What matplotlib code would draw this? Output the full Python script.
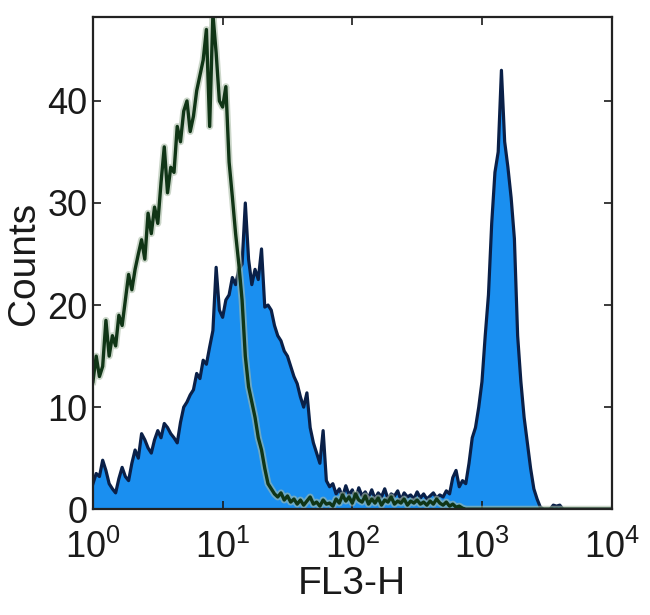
import numpy as np
import matplotlib.pyplot as plt

plt.rcParams['font.family'] = ['Liberation Sans', 'DejaVu Sans']
plt.rcParams['mathtext.fontset'] = 'custom'
plt.rcParams['mathtext.rm'] = 'Liberation Sans'
plt.rcParams['mathtext.default'] = 'regular'

# channel grid (log10 of FL3-H), 161 channels over 4 decades
log_ch = np.linspace(0, 4, 161)

# unstained / control (outline only)
control = [12.5, 15.0, 13.0, 14.0, 18.5, 15.0, 17.0, 16.0, 19.0, 18.0,
           20.5, 23.0, 21.5, 23.5, 25.0, 26.4, 24.5, 29.0, 27.0, 29.6,
           28.0, 32.0, 35.5, 31.0, 33.5, 33.0, 37.5, 36.0, 39.0, 40.0,
           37.0, 38.5, 41.0, 42.5, 44.0, 47.0, 37.5, 48.5, 44.7, 40.0,
           39.4, 41.4, 34.0, 30.6, 27.0, 24.0, 20.5, 15.0, 12.0, 10.5,
           9.0, 7.0, 5.8, 4.0, 2.5, 2.0, 1.5, 1.2, 1.6, 0.9,
           1.3, 0.7, 1.0, 0.5, 0.9, 0.4, 0.8, 1.2, 0.5, 0.7,
           0.3, 0.9, 0.5, 0.6, 0.3, 1.0, 0.6, 1.4, 0.8, 1.2,
           0.6, 1.5, 0.9, 0.7, 1.3, 0.5, 1.0, 0.6, 1.1, 0.4,
           0.9, 0.7, 1.2, 0.5, 0.8, 0.6, 1.0, 0.4, 0.8, 0.6,
           0.9, 0.5, 0.7, 0.4, 0.8, 0.5, 1.0, 0.6, 0.4, 0.7,
           0.3, 0.5, 0.2, 0.3, 0.1] + [0.0] * 46

# stained sample (filled)
stained = [2.5, 3.5, 3.2, 4.8, 3.8, 2.5, 2.0, 1.6, 3.0, 4.1,
           3.2, 2.8, 4.5, 5.8, 5.0, 7.4, 6.8, 6.0, 5.5, 6.8,
           7.7, 7.0, 8.4, 8.0, 7.4, 7.0, 6.5, 8.5, 10.0, 10.5,
           11.2, 11.7, 13.3, 12.8, 14.6, 14.2, 15.9, 17.5, 23.7, 19.5,
           18.8, 20.5, 21.0, 22.7, 22.0, 23.5, 24.0, 30.0, 24.5, 22.0,
           23.5, 22.5, 25.5, 19.8, 20.0, 19.5, 18.0, 17.0, 16.5, 15.5,
           15.0, 14.0, 13.0, 12.3, 11.0, 10.0, 11.4, 8.0, 6.5, 5.5,
           4.5, 7.7, 2.8, 2.2, 2.5, 1.5, 2.0, 1.2, 2.3, 1.4,
           1.9, 1.0, 2.1, 1.3, 1.7, 1.1, 1.9, 1.0, 1.6, 1.2,
           2.0, 1.0, 1.5, 1.3, 1.8, 0.9, 1.6, 1.2, 1.4, 1.0,
           1.7, 1.1, 1.5, 1.0, 1.3, 1.6, 1.1, 1.4, 1.2, 1.8,
           1.5, 3.1, 3.8, 2.2, 2.8, 2.5, 4.5, 7.0, 8.0, 10.0,
           12.5, 17.0, 21.0, 28.0, 33.0, 35.0, 43.0, 36.0, 33.5, 30.5,
           26.5, 17.0, 12.5, 9.0, 6.5, 4.0, 2.0, 1.0, 0.2, 0.0,
           0.0, 0.0, 0.4, 0.3, 0.4] + [0.0] * 16

x_ticks = [1, 10, 100, 1000, 10000]
x_labels = ['$10^{0}$', '$10^{1}$', '$10^{2}$', '$10^{3}$', '$10^{4}$']
y_ticks = [0, 10, 20, 30, 40]

fl3 = 10 ** log_ch

fig = plt.figure(figsize=(6.5, 6.15), dpi=100)
ax = fig.add_axes([0.143, 0.172, 0.798, 0.80])

ax.fill_between(fl3, stained, 0, color='#1a8ff0', lw=0)
ax.plot(fl3, stained, color='#0a2048', lw=2.3)
ax.plot(fl3, control, color='#a9bca6', lw=5, alpha=0.6)
ax.plot(fl3, control, color='#103516', lw=2.4)

ax.set_xscale('log')
ax.set_xlim(1, 1e4)
ax.set_ylim(0, 48.2)
ax.set_xticks(x_ticks)
ax.set_xticklabels(x_labels)
ax.xaxis.set_minor_locator(plt.NullLocator())
ax.set_yticks(y_ticks)

ax.tick_params(direction='in', top=True, right=True, length=6, width=1.2,
               labelsize=26, colors='#1a1a1a')
ax.tick_params(axis='x', pad=15)
ax.tick_params(axis='y', pad=4)
for s in ax.spines.values():
    s.set_linewidth(1.6)
    s.set_color('#222222')

ax.set_xlabel('FL3-H', fontsize=28, color='#1a1a1a')
ax.set_ylabel('Counts', fontsize=28, color='#1a1a1a')
ax.yaxis.set_label_coords(-0.098, 0.5)
ax.xaxis.set_label_coords(0.5, -0.115)

plt.savefig('out.png', dpi=100)
